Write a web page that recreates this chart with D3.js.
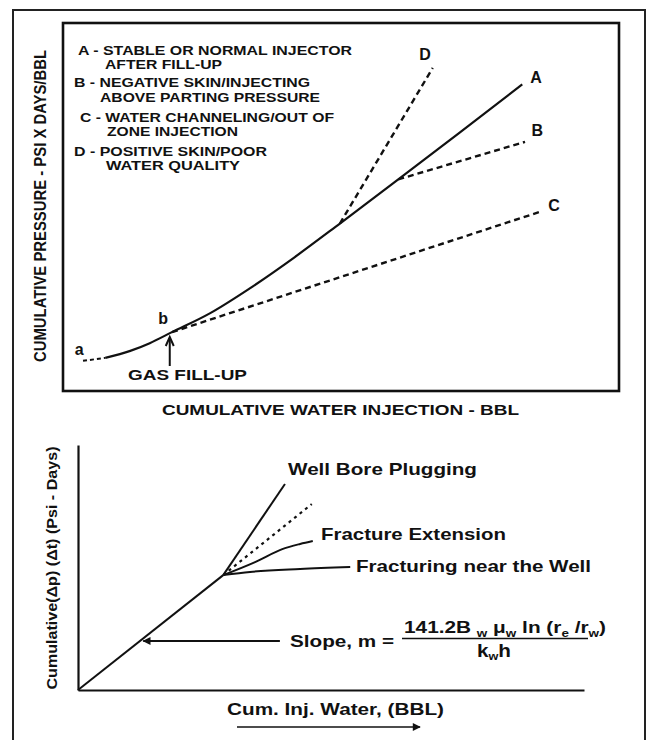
<!DOCTYPE html>
<html>
<head>
<meta charset="utf-8">
<script src="https://cdn.jsdelivr.net/npm/d3@7"></script>
<style>
  body { margin: 0; background: #fff; }
  text { font-family: "Liberation Sans", Arial, sans-serif; font-weight: bold; fill: #111; }
</style>
</head>
<body>
<div id="chart"></div>
<script>
// data (chart units 0-100 on both axes, no ticks in the original)

// top chart : Hall plot, curves a-b-A, B, C, D
var curveAX = [3.6, 7.6, 12.1, 15.6, 19.6, 26.4, 33.6, 41.7, 49.8, 60.3, 71.4, 82.6];
var curveAY = [8.2, 9.0, 10.9, 13.0, 16.0, 21.1, 27.9, 36.4, 45.5, 57.5, 70.3, 83.3];
var curveBX = [60.3, 83.1];
var curveBY = [57.5, 67.7];
var curveCX = [19.6, 86.2];
var curveCY = [16.0, 48.9];
var curveDX = [49.8, 66.5];
var curveDY = [45.5, 87.8];

var legendLines = [
    "A - STABLE OR NORMAL INJECTOR", "AFTER FILL-UP",
    "B - NEGATIVE SKIN/INJECTING", "ABOVE PARTING PRESSURE",
    "C - WATER CHANNELING/OUT OF", "ZONE INJECTION",
    "D - POSITIVE SKIN/POOR", "WATER QUALITY"
];

// bottom chart : cumulative pressure vs cumulative injection
var slopeX = [0, 28.7];
var slopeY = [0, 46.9];
var pluggingX = [28.7, 40.9];
var pluggingY = [46.9, 84.1];
var dashedX = [28.7, 46.2];
var dashedY = [46.9, 75.9];
var extensionX = [28.7, 35.0, 40.5, 43.9, 46.4];
var extensionY = [46.9, 52.2, 57.6, 59.6, 60.8];
var nearWellX = [28.7, 34.0, 43.9, 53.8];
var nearWellY = [46.9, 48.2, 49.4, 50.2];

function pts(xs, ys) {
    return xs.map(function (d, i) { return [d, ys[i]]; });
}

var svg = d3.select("#chart").append("svg")
    .attr("width", 649)
    .attr("height", 740);

// marker for filled arrows
svg.append("defs").append("marker")
    .attr("id", "tri")
    .attr("viewBox", "0 0 10 10")
    .attr("refX", 9).attr("refY", 5)
    .attr("markerWidth", 14).attr("markerHeight", 8)
    .attr("markerUnits", "userSpaceOnUse")
    .attr("orient", "auto-start-reverse")
    .append("path")
    .attr("d", "M0,0L10,5L0,10Z")
    .attr("fill", "#111");

// outer frame
svg.append("rect")
    .attr("x", 13).attr("y", 10)
    .attr("width", 632).attr("height", 740)
    .attr("fill", "none")
    .attr("stroke", "#222")
    .attr("stroke-width", 2);

// ---------- top chart ----------
var xT = d3.scaleLinear().domain([0, 100]).range([63, 619]);
var yT = d3.scaleLinear().domain([0, 100]).range([391, 23]);

svg.append("rect")
    .attr("x", xT(0)).attr("y", yT(100))
    .attr("width", xT(100) - xT(0))
    .attr("height", yT(0) - yT(100))
    .attr("fill", "none")
    .attr("stroke", "#111")
    .attr("stroke-width", 2.6);

var lineT = d3.line()
    .x(function (d) { return xT(d[0]); })
    .y(function (d) { return yT(d[1]); })
    .curve(d3.curveMonotoneX);

var aPts = pts(curveAX, curveAY);
// little dashed start near "a"
svg.append("path")
    .attr("d", lineT(aPts.slice(0, 2)))
    .attr("fill", "none").attr("stroke", "#111")
    .attr("stroke-width", 2).attr("stroke-dasharray", "4,3");
svg.append("path")
    .attr("d", lineT(aPts.slice(1)))
    .attr("fill", "none").attr("stroke", "#111")
    .attr("stroke-width", 2.2);

[[curveBX, curveBY], [curveCX, curveCY], [curveDX, curveDY]].forEach(function (c) {
    svg.append("path")
        .attr("d", lineT(pts(c[0], c[1])))
        .attr("fill", "none")
        .attr("stroke", "#111")
        .attr("stroke-width", 2.4)
        .attr("stroke-dasharray", "6,4");
});

var letterLabels = [
    {t: "D", x: 65.1, y: 91.6}, {t: "A", x: 85.1, y: 85.3},
    {t: "B", x: 85.3, y: 70.9}, {t: "C", x: 88.3, y: 50.5},
    {t: "a", x: 2.9, y: 11.2}, {t: "b", x: 18.0, y: 19.8}
];
svg.selectAll(".letter")
    .data(letterLabels)
    .enter().append("text")
    .attr("class", "letter")
    .attr("x", function (d) { return xT(d.x); })
    .attr("y", function (d) { return yT(d.y); })
    .attr("dy", "0.35em")
    .attr("text-anchor", "middle")
    .style("font-size", "16px")
    .text(function (d) { return d.t; });

// legend block
var legendPos = [[78, 55, 274], [105, 69, 117], [74, 87, 236], [100, 102, 220],
                 [80, 122, 254], [107, 136, 131], [74, 156, 193], [106, 170, 134]];
svg.selectAll(".legend")
    .data(legendLines)
    .enter().append("text")
    .attr("class", "legend")
    .attr("x", function (d, i) { return legendPos[i][0]; })
    .attr("y", function (d, i) { return legendPos[i][1]; })
    .attr("textLength", function (d, i) { return legendPos[i][2]; })
    .attr("lengthAdjust", "spacingAndGlyphs")
    .style("font-size", "12px")
    .text(function (d) { return d; });

// gas fill-up arrow
var gx = xT(19.2);
svg.append("line")
    .attr("x1", gx).attr("x2", gx)
    .attr("y1", 366).attr("y2", 338)
    .attr("stroke", "#111").attr("stroke-width", 2);
svg.append("path")
    .attr("d", "M" + (gx - 4) + ",346L" + gx + ",337L" + (gx + 4) + ",346")
    .attr("fill", "none").attr("stroke", "#111").attr("stroke-width", 2);
svg.append("text")
    .attr("x", 128).attr("y", 380)
    .attr("textLength", 119).attr("lengthAdjust", "spacingAndGlyphs")
    .style("font-size", "14.5px")
    .text("GAS FILL-UP");

svg.append("text")
    .attr("transform", "translate(40,206) rotate(-90)")
    .attr("text-anchor", "middle")
    .attr("dy", "0.36em")
    .attr("textLength", 312).attr("lengthAdjust", "spacingAndGlyphs")
    .style("font-size", "16px")
    .text("CUMULATIVE PRESSURE - PSI X DAYS/BBL");

svg.append("text")
    .attr("x", 162).attr("y", 415)
    .attr("textLength", 357).attr("lengthAdjust", "spacingAndGlyphs")
    .style("font-size", "15px")
    .text("CUMULATIVE WATER INJECTION - BBL");

// ---------- bottom chart ----------
var xB = d3.scaleLinear().domain([0, 100]).range([78, 584]);
var yB = d3.scaleLinear().domain([0, 100]).range([690, 445]);

svg.append("g")
    .attr("transform", "translate(0," + yB(0) + ")")
    .call(d3.axisBottom(xB).ticks(0).tickSizeOuter(0))
    .select(".domain").attr("stroke", "#111").attr("stroke-width", 2.2);
svg.append("g")
    .attr("transform", "translate(" + xB(0) + ",0)")
    .call(d3.axisLeft(yB).ticks(0).tickSizeOuter(0))
    .select(".domain").attr("stroke", "#111").attr("stroke-width", 2.2);

var lineB = d3.line()
    .x(function (d) { return xB(d[0]); })
    .y(function (d) { return yB(d[1]); })
    .curve(d3.curveMonotoneX);

[[slopeX, slopeY], [pluggingX, pluggingY], [extensionX, extensionY], [nearWellX, nearWellY]].forEach(function (c) {
    svg.append("path")
        .attr("d", lineB(pts(c[0], c[1])))
        .attr("fill", "none")
        .attr("stroke", "#111")
        .attr("stroke-width", 2);
});
svg.append("path")
    .attr("d", lineB(pts(dashedX, dashedY)))
    .attr("fill", "none")
    .attr("stroke", "#111")
    .attr("stroke-width", 2.2)
    .attr("stroke-dasharray", "3,4");

// slope arrow
svg.append("line")
    .attr("x1", xB(39.9)).attr("y1", yB(20.0))
    .attr("x2", xB(12.9)).attr("y2", yB(20.0))
    .attr("stroke", "#111").attr("stroke-width", 2)
    .attr("marker-end", "url(#tri)");

svg.append("text").attr("x", 288).attr("y", 475)
    .attr("textLength", 189).attr("lengthAdjust", "spacingAndGlyphs")
    .style("font-size", "17px").text("Well Bore Plugging");
svg.append("text").attr("x", 321).attr("y", 540)
    .attr("textLength", 185).attr("lengthAdjust", "spacingAndGlyphs")
    .style("font-size", "17px").text("Fracture Extension");
svg.append("text").attr("x", 356).attr("y", 572)
    .attr("textLength", 235).attr("lengthAdjust", "spacingAndGlyphs")
    .style("font-size", "17px").text("Fracturing near the Well");
svg.append("text").attr("x", 290).attr("y", 647)
    .attr("textLength", 104).attr("lengthAdjust", "spacingAndGlyphs")
    .style("font-size", "17px").text("Slope, m =");

// formula numerator
var num = svg.append("text").attr("x", 404).attr("y", 633)
    .attr("textLength", 202).attr("lengthAdjust", "spacingAndGlyphs")
    .style("font-size", "17px");
num.append("tspan").text("141.2B ");
num.append("tspan").attr("dy", 4).style("font-size", "11px").text("w");
num.append("tspan").attr("dy", -4).text(" μ");
num.append("tspan").attr("dy", 4).style("font-size", "11px").text("w");
num.append("tspan").attr("dy", -4).text(" ln (r");
num.append("tspan").attr("dy", 4).style("font-size", "11px").text("e");
num.append("tspan").attr("dy", -4).text(" /r");
num.append("tspan").attr("dy", 4).style("font-size", "11px").text("w");
num.append("tspan").attr("dy", -4).text(")");

svg.append("line")
    .attr("x1", 402).attr("x2", 588)
    .attr("y1", 638.5).attr("y2", 638.5)
    .attr("stroke", "#111").attr("stroke-width", 1.6);

var den = svg.append("text").attr("x", 477).attr("y", 657)
    .attr("textLength", 34).attr("lengthAdjust", "spacingAndGlyphs")
    .style("font-size", "18px");
den.append("tspan").text("k");
den.append("tspan").attr("dy", 3).style("font-size", "11px").text("w");
den.append("tspan").attr("dy", -3).text("h");

svg.append("text")
    .attr("transform", "translate(52,568) rotate(-90)")
    .attr("text-anchor", "middle")
    .attr("dy", "0.36em")
    .attr("textLength", 243).attr("lengthAdjust", "spacingAndGlyphs")
    .style("font-size", "15px")
    .text("Cumulative(\u0394p) (\u0394t) (Psi - Days)");

svg.append("text").attr("x", 227).attr("y", 715)
    .attr("textLength", 217).attr("lengthAdjust", "spacingAndGlyphs")
    .style("font-size", "17px").text("Cum. Inj. Water, (BBL)");

svg.append("line")
    .attr("x1", 237).attr("x2", 420)
    .attr("y1", 727).attr("y2", 727)
    .attr("stroke", "#111").attr("stroke-width", 1.6)
    .attr("marker-end", "url(#tri)");
</script>
</body>
</html>
